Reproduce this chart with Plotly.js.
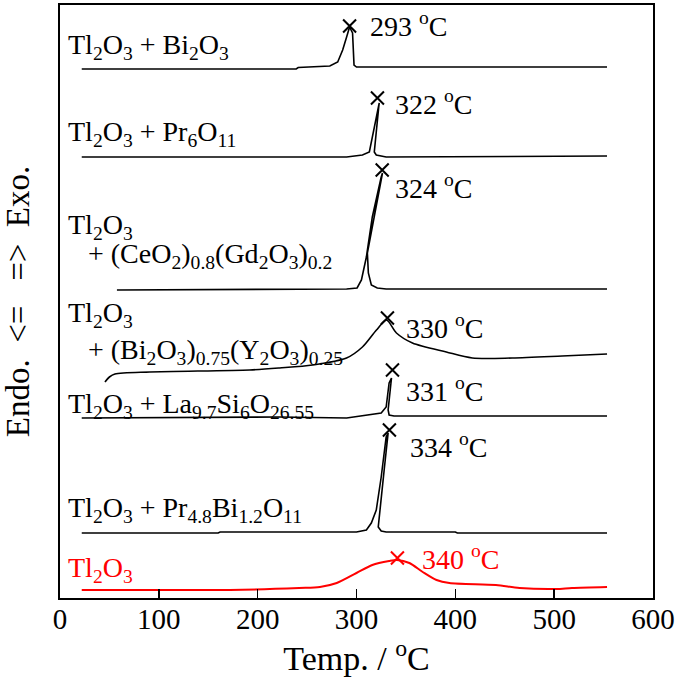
<!DOCTYPE html>
<html>
<head>
<meta charset="utf-8">
<script src="https://cdn.plot.ly/plotly-3.0.1.min.js"></script>
<style>html,body{margin:0;padding:0;background:#fff;}#chart{width:685px;height:682px;}</style>
</head>
<body>
<div id="chart"></div>
<script>
// ---- data (temperature in °C, signal in arbitrary stacked units) ----
const tBi2O3 = [22, 239, 241, 273, 281, 286, 290, 293, 296, 297, 297.5, 300, 553.5];
const sBi2O3 = [529, 529, 530.5, 532, 536, 548, 561, 571, 565, 548, 533, 531, 531];

const tPr6O11 = [22, 290, 306, 311, 313, 323, 322.5, 318, 320, 330, 553.5];
const sPr6O11 = [441, 441, 443, 445, 446, 495, 491, 446, 443, 441, 442];

const tCeGd = [57.6, 290, 300.6, 305, 310, 316, 325, 326.3, 311, 312, 315, 321, 330, 553.5];
const sCeGd = [308, 309, 310, 318, 341, 381, 421, 425, 345, 325, 313, 310, 309, 309];

const tBiY = [45.5, 50, 55.6, 90.9, 191.9, 222.2, 255.6, 289.9, 306, 320.2, 330.3, 340.4, 356.6, 390.9, 417.2, 457.6, 508, 553.5];
const sBiY = [216, 221, 224, 226, 228, 230, 233, 240, 251, 268, 278, 265, 255, 246, 240, 240, 242, 244];

const tLaSi = [22, 222, 290, 313, 325, 330, 333, 335.4, 332, 333, 338, 553.5];
const sLaSi = [180, 181, 180, 183, 185, 191, 215, 220, 188, 183, 182, 182];

const tPrBi = [22, 160, 162, 300, 310, 315, 320, 325, 330, 332, 328, 323, 322, 325, 330, 400, 402, 553.5];
const sPrBi = [65, 65, 66, 66, 68, 75, 88, 121, 161, 165, 128, 78, 71, 67, 66, 66, 65, 65];

const tTl2O3 = [22, 100, 172, 242, 263, 280, 300, 316, 333, 341, 353.5, 367, 381, 394, 441, 465, 502, 518, 553.5];
const sTl2O3 = [8, 8, 8, 10, 11, 15, 25, 33, 37, 38, 35, 26, 18, 15, 13, 10, 9, 10, 11];

// peak markers
const peakT = [293, 321.2, 326, 331.3, 336.4, 333.3, 341.4];
const peakS = [572, 500, 428, 280, 228, 168, 40];
const peakLabels = ["293", "322", "324", "330", "331", "334", "340"];

const sampleNames = [
  "Tl<sub>2</sub>O<sub>3</sub> + Bi<sub>2</sub>O<sub>3</sub>",
  "Tl<sub>2</sub>O<sub>3</sub> + Pr<sub>6</sub>O<sub>11</sub>",
  "Tl<sub>2</sub>O<sub>3</sub>",
  "+ (CeO<sub>2</sub>)<sub>0.8</sub>(Gd<sub>2</sub>O<sub>3</sub>)<sub>0.2</sub>",
  "Tl<sub>2</sub>O<sub>3</sub>",
  "+ (Bi<sub>2</sub>O<sub>3</sub>)<sub>0.75</sub>(Y<sub>2</sub>O<sub>3</sub>)<sub>0.25</sub>",
  "Tl<sub>2</sub>O<sub>3</sub> + La<sub>9.7</sub>Si<sub>6</sub>O<sub>26.55</sub>",
  "Tl<sub>2</sub>O<sub>3</sub> + Pr<sub>4.8</sub>Bi<sub>1.2</sub>O<sub>11</sub>",
  "Tl<sub>2</sub>O<sub>3</sub>"
];
const xTicks = [0, 100, 200, 300, 400, 500, 600];

// ---- layout helpers (pixel positions -> axis coords) ----
const L = 60, T = 5, W = 593, H = 593;
const px2x = p => (p - L) / W * 600;
const py2y = p => (T + H - p);

const FONT = "Liberation Serif";
const curves = [
  [tBi2O3, sBi2O3, "black", "linear"], [tPr6O11, sPr6O11, "black", "linear"], [tCeGd, sCeGd, "black", "linear"],
  [tBiY, sBiY, "black", "spline"], [tLaSi, sLaSi, "black", "linear"], [tPrBi, sPrBi, "black", "linear"],
  [tTl2O3, sTl2O3, "red", "spline"]
];
const traces = curves.map(c => ({
  x: c[0], y: c[1], type: "scatter", mode: "lines",
  line: {color: c[2], width: c[2] === "red" ? 2 : 1.6, shape: c[3], smoothing: 0.8}, hoverinfo: "skip"
}));
const peakColors = peakT.map((_, i) => i === 6 ? "red" : "black");
traces.push({
  x: peakT, y: peakS, type: "scatter", mode: "markers",
  marker: {symbol: "x-thin-open", size: 13, color: peakColors, line: {width: 2, color: peakColors}},
  hoverinfo: "skip"
});

// label positions (pixels): [left x, center y]
const namePos = [[66, 46], [66, 133], [66, 226], [86, 255], [66, 314], [86, 351], [66, 405], [66, 509], [66, 569]];
const peakPos = [[368, 24], [393, 102], [393, 186], [404, 326], [404, 389], [408, 445], [420, 557]];

const annotations = [];
sampleNames.forEach((s, i) => annotations.push({
  x: px2x(namePos[i][0]), y: py2y(namePos[i][1]), xref: "x", yref: "y",
  xanchor: "left", yanchor: "middle", showarrow: false, text: s,
  font: {family: FONT, size: 28, color: i === 8 ? "red" : "black"}
}));
peakLabels.forEach((s, i) => annotations.push({
  x: px2x(peakPos[i][0]), y: py2y(peakPos[i][1]), xref: "x", yref: "y",
  xanchor: "left", yanchor: "middle", showarrow: false, text: s + " <sup>o</sup>C",
  font: {family: FONT, size: 28, color: i === 6 ? "red" : "black"}
}));

const layout = {
  width: 685, height: 682,
  margin: {l: L, r: 685 - L - W, t: T, b: 682 - T - H},
  paper_bgcolor: "white", plot_bgcolor: "white",
  showlegend: false,
  font: {family: FONT, color: "black"},
  xaxis: {
    range: [0, 600], tickvals: xTicks, ticktext: xTicks.map(String),
    ticks: "inside", ticklen: 9, tickwidth: 1.5, tickcolor: "black",
    ticklabelstandoff: -6,
    showline: true, linecolor: "black", linewidth: 2, mirror: true,
    showgrid: false, zeroline: false,
    tickfont: {family: FONT, size: 29, color: "black"},
    title: {text: "Temp. / <sup>o</sup>C", font: {family: FONT, size: 34, color: "black"}, standoff: 4}
  },
  yaxis: {
    range: [0, 593], showticklabels: false, ticks: "",
    showline: true, linecolor: "black", linewidth: 2, mirror: true,
    showgrid: false, zeroline: false,
    title: {text: "Endo.\u00a0\u00a0<=\u00a0\u00a0\u00a0=>\u00a0\u00a0Exo.", font: {family: FONT, size: 33, color: "black"}, standoff: 18}
  },
  annotations: annotations
};
Plotly.newPlot("chart", traces, layout, {staticPlot: true, displayModeBar: false});
</script>
</body>
</html>
